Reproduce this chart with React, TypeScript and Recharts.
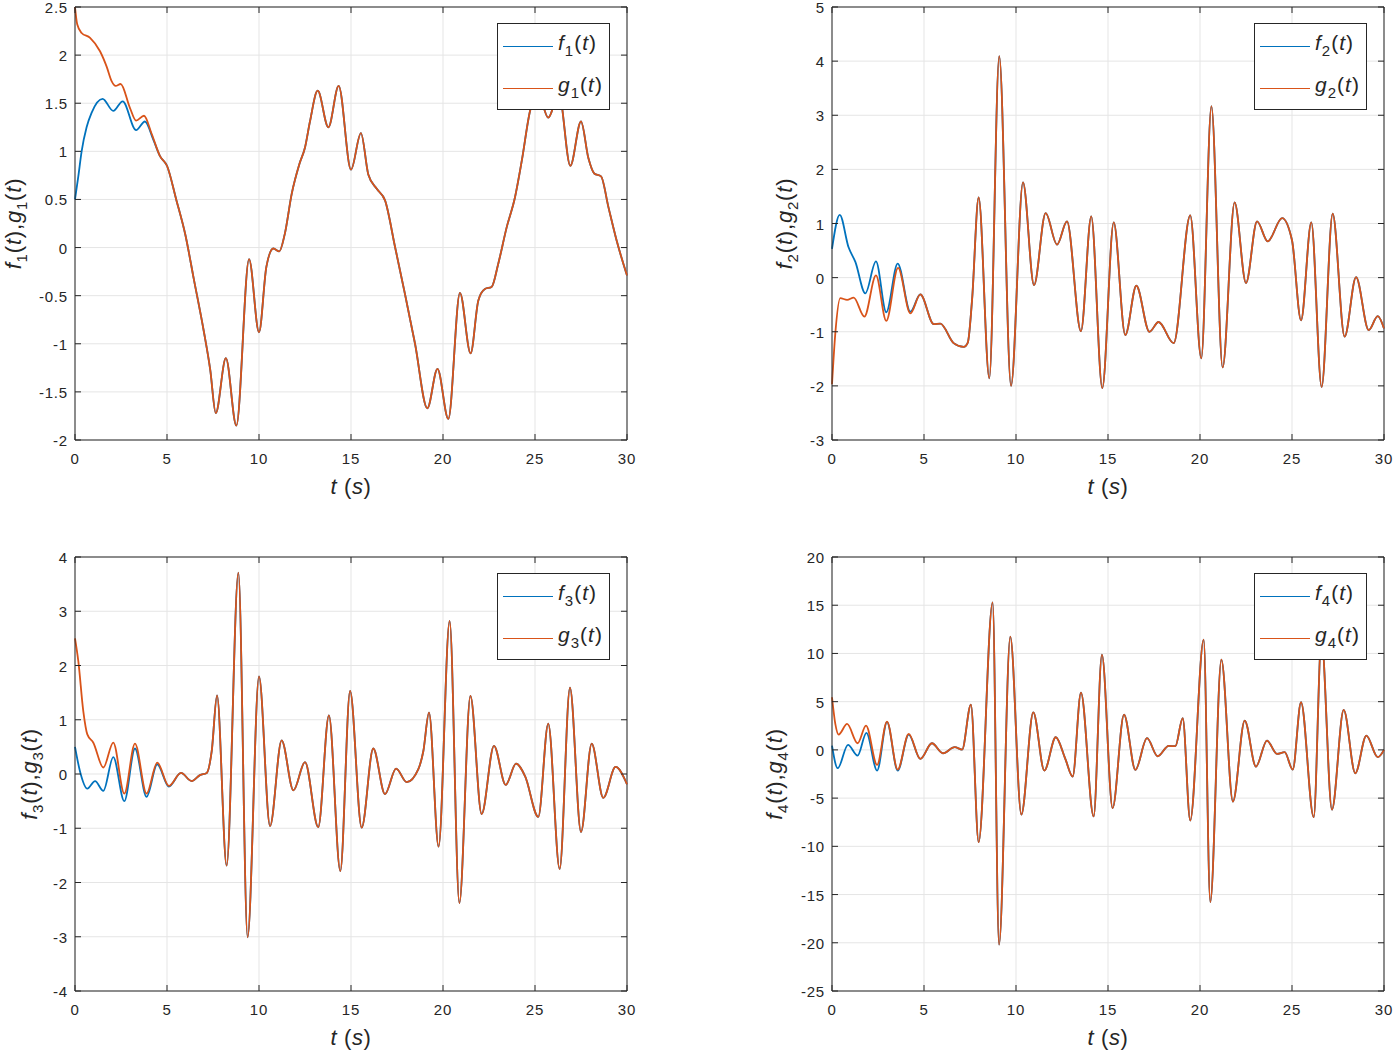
import React from "react";
import {
  LineChart,
  Line,
  XAxis,
  YAxis,
  CartesianGrid,
  ReferenceLine,
  Legend,
} from "recharts";

type Pt = [number, number];

// time axis ticks (s)
const xTicks = [0, 5, 10, 15, 20, 25, 30];

// y ticks of each panel
const y1Ticks = [-2, -1.5, -1, -0.5, 0, 0.5, 1, 1.5, 2, 2.5];
const y2Ticks = [-3, -2, -1, 0, 1, 2, 3, 4, 5];
const y3Ticks = [-4, -3, -2, -1, 0, 1, 2, 3, 4];
const y4Ticks = [-25, -20, -15, -10, -5, 0, 5, 10, 15, 20];

// panel 1: start of f1 / g1 (they differ), then common part
const f1Head: Pt[] = [
  [0, 0.5], [0.18, 0.74], [0.36, 1.0], [0.63, 1.25], [0.9, 1.4], [1.5, 1.545],
  [2.08, 1.42], [2.59, 1.52], [3.32, 1.22], [3.8, 1.31], [4.26, 1.12],
];
const g1Head: Pt[] = [
  [0, 2.5], [0.12, 2.32], [0.36, 2.23], [0.82, 2.18], [1.36, 2.04], [1.72, 1.88],
  [1.99, 1.73], [2.21, 1.68], [2.48, 1.7], [2.99, 1.45], [3.32, 1.32], [3.75, 1.37],
  [4.17, 1.18],
];
const tail1: Pt[] = [
  [4.62, 0.95], [5.0, 0.85], [5.5, 0.5], [6.0, 0.13], [6.45, -0.32], [7.0, -0.87],
  [7.35, -1.27], [7.65, -1.72], [8.2, -1.15], [8.77, -1.85], [9.46, -0.12],
  [10.0, -0.88], [10.4, -0.2], [10.78, -0.01], [11.1, -0.04], [11.4, 0.14],
  [11.78, 0.56], [12.2, 0.87], [12.5, 1.04], [12.77, 1.31], [13.19, 1.63],
  [13.77, 1.25], [14.33, 1.68], [15.0, 0.81], [15.54, 1.19], [15.94, 0.76],
  [16.4, 0.61], [16.85, 0.49], [17.4, 0.0], [17.93, -0.48], [18.48, -1.0],
  [19.15, -1.67], [19.7, -1.26], [20.29, -1.78], [20.92, -0.47], [21.5, -1.1],
  [21.92, -0.55], [22.28, -0.43], [22.64, -0.41], [23.0, -0.17], [23.46, 0.21],
  [23.91, 0.52], [24.28, 0.9], [24.73, 1.42], [25.15, 1.62], [25.72, 1.35],
  [26.3, 1.6], [26.92, 0.85], [27.5, 1.31], [27.9, 0.93], [28.22, 0.77],
  [28.59, 0.74], [28.99, 0.42], [29.44, 0.07], [30.0, -0.29],
];

// panel 2
const f2Head: Pt[] = [
  [0, 0.53], [0.42, 1.16], [0.9, 0.56], [1.27, 0.29], [1.81, -0.29], [2.39, 0.3],
  [2.95, -0.64], [3.57, 0.26], [4.26, -0.63], [4.8, -0.31],
];
const g2Head: Pt[] = [
  [0, -1.97], [0.18, -1.03], [0.45, -0.38], [0.82, -0.41], [1.18, -0.37],
  [1.76, -0.72], [2.39, 0.04], [2.95, -0.8], [3.59, 0.18], [4.26, -0.66],
  [4.8, -0.31],
];
const tail2: Pt[] = [
  [5.53, -0.86], [5.89, -0.85], [6.61, -1.21], [7.16, -1.28], [7.38, -1.2],
  [7.61, -0.42], [7.97, 1.48], [8.55, -1.86], [9.09, 4.09], [9.73, -2.0],
  [10.38, 1.76], [10.98, -0.14], [11.61, 1.19], [12.23, 0.61], [12.77, 1.04],
  [13.53, -0.99], [14.09, 1.13], [14.69, -2.04], [15.31, 1.02], [15.94, -1.06],
  [16.54, -0.15], [17.25, -1.0], [17.75, -0.82], [18.57, -1.21], [19.47, 1.15],
  [20.07, -1.49], [20.62, 3.17], [21.23, -1.66], [21.88, 1.39], [22.5, -0.1],
  [23.1, 1.04], [23.68, 0.67], [24.46, 1.1], [25.0, 0.69], [25.49, -0.79],
  [26.05, 1.02], [26.61, -2.02], [27.21, 1.18], [27.86, -1.09], [28.48, 0.01],
  [29.17, -0.97], [29.66, -0.71], [30.0, -0.94],
];

// panel 3
const f3Head: Pt[] = [
  [0, 0.5], [0.27, 0.05], [0.67, -0.27], [1.09, -0.13], [1.54, -0.31],
  [2.08, 0.31], [2.68, -0.5], [3.26, 0.47], [3.89, -0.42], [4.47, 0.18],
  [5.1, -0.23],
];
const g3Head: Pt[] = [
  [0, 2.5], [0.18, 2.08], [0.45, 1.16], [0.67, 0.73], [0.99, 0.58], [1.54, 0.12],
  [2.08, 0.58], [2.68, -0.36], [3.26, 0.56], [3.89, -0.36], [4.47, 0.21],
  [5.1, -0.22],
];
const tail3: Pt[] = [
  [5.76, 0.02], [6.34, -0.13], [6.79, -0.02], [7.16, 0.02], [7.43, 0.42],
  [7.72, 1.45], [8.24, -1.69], [8.88, 3.71], [9.38, -3.01], [10.0, 1.8],
  [10.6, -0.96], [11.23, 0.62], [11.87, -0.3], [12.5, 0.22], [13.22, -0.98],
  [13.8, 1.08], [14.42, -1.79], [14.95, 1.53], [15.58, -0.99], [16.21, 0.47],
  [16.85, -0.37], [17.45, 0.1], [18.03, -0.15], [18.66, 0.09], [18.93, 0.42],
  [19.24, 1.13], [19.76, -1.34], [20.36, 2.82], [20.89, -2.38], [21.49, 1.44],
  [22.1, -0.74], [22.77, 0.52], [23.41, -0.2], [23.97, 0.19], [24.46, -0.04],
  [25.18, -0.79], [25.72, 0.93], [26.34, -1.75], [26.9, 1.59], [27.5, -1.07],
  [28.08, 0.56], [28.71, -0.44], [29.38, 0.13], [30.0, -0.19],
];

// panel 4
const f4Head: Pt[] = [
  [0, 0.45], [0.31, -1.9], [0.87, 0.52], [1.39, -0.59], [1.87, 1.76],
  [2.45, -2.14], [2.99, 2.87], [3.57, -2.14], [4.17, 1.59], [4.8, -0.93],
];
const g4Head: Pt[] = [
  [0, 5.46], [0.18, 2.7], [0.36, 1.59], [0.82, 2.69], [1.39, 0.69], [1.85, 2.52],
  [2.45, -1.55], [2.99, 2.94], [3.57, -2.04], [4.17, 1.66], [4.8, -0.93],
];
const tail4: Pt[] = [
  [5.43, 0.69], [6.03, -0.35], [6.67, 0.28], [7.07, 0.03], [7.55, 4.7],
  [7.97, -9.56], [8.73, 15.3], [9.08, -20.2], [9.69, 11.74], [10.29, -6.7],
  [10.94, 3.9], [11.54, -2.14], [12.16, 1.31], [12.68, -0.93], [13.08, -2.76],
  [13.53, 5.94], [14.22, -6.9], [14.67, 9.88], [15.25, -6.04], [15.87, 3.66],
  [16.49, -2.07], [17.12, 1.21], [17.7, -0.66], [18.3, 0.41], [18.66, 0.38],
  [19.06, 3.28], [19.47, -7.32], [20.2, 11.43], [20.56, -15.78], [21.16, 9.36],
  [21.79, -5.35], [22.43, 3.04], [23.04, -1.73], [23.64, 0.97], [24.18, -0.41],
  [24.6, -0.24], [25.04, -2.04], [25.49, 4.94], [26.18, -6.98], [26.6, 11.5],
  [27.17, -6.2], [27.81, 4.14], [28.44, -2.42], [29.04, 1.48], [29.66, -0.76],
  [30.0, 0.0],
];

const FONT = '"Liberation Sans", Arial, Helvetica, sans-serif';
const AX = "#262626";
const BLUE = "#0072BD";
const ORANGE = "#D95319";

const PW = 552; // plot width
const Y_AXIS_W = 75;
const M_TOP = 7;
const X_AXIS_H = 62;
const CW = Y_AXIS_W + PW + 10;

const toRows = (pts: Pt[]) => pts.map(([t, v]) => ({ t, v }));

function XTick(props: any) {
  const { x, y, payload, top, bottom } = props;
  return (
    <g>
      <line x1={x} x2={x} y1={bottom} y2={bottom - 6} stroke={AX} />
      <line x1={x} x2={x} y1={top} y2={top + 6} stroke={AX} />
      <text x={x} y={y} textAnchor="middle" fontSize={15} letterSpacing={0.8} fontFamily={FONT} fill={AX}>
        {payload.value}
      </text>
    </g>
  );
}

function YTick(props: any) {
  const { x, y, payload, left, right } = props;
  return (
    <g>
      <line x1={left} x2={left + 6} y1={y} y2={y} stroke={AX} />
      <line x1={right} x2={right - 6} y1={y} y2={y} stroke={AX} />
      <text x={x} y={y + 6} textAnchor="end" fontSize={15} letterSpacing={0.8} fontFamily={FONT} fill={AX}>
        {payload.value}
      </text>
    </g>
  );
}

function YTitle({ cx, cy, idx }: { cx: number; cy: number; idx: number }) {
  return (
    <text
      x={cx}
      y={cy}
      transform={`rotate(-90 ${cx} ${cy})`}
      textAnchor="middle"
      fontSize={22}
      letterSpacing={0.8}
      fontFamily={FONT}
      fill={AX}
    >
      <tspan fontStyle="italic">f</tspan>
      <tspan fontSize={15} dy={6}>{idx}</tspan>
      <tspan dy={-6}>(</tspan>
      <tspan fontStyle="italic">t</tspan>
      <tspan>),</tspan>
      <tspan fontStyle="italic">g</tspan>
      <tspan fontSize={15} dy={6}>{idx}</tspan>
      <tspan dy={-6}>(</tspan>
      <tspan fontStyle="italic">t</tspan>
      <tspan>)</tspan>
    </text>
  );
}

function XTitle({ cx, cy }: { cx: number; cy: number }) {
  return (
    <text x={cx} y={cy} textAnchor="middle" fontSize={22} letterSpacing={0.6} fontFamily={FONT} fill={AX}>
      <tspan fontStyle="italic">t</tspan>
      <tspan> (</tspan>
      <tspan fontStyle="italic">s</tspan>
      <tspan>)</tspan>
    </text>
  );
}

function LegendBox(props: any) {
  const items = props.payload ?? [];
  return (
    <div
      style={{
        width: 113,
        height: 87,
        boxSizing: "border-box",
        border: `1px solid ${AX}`,
        background: "#fff",
        position: "relative",
        fontFamily: FONT,
        color: AX,
      }}
    >
      {items.map((e: any, i: number) => {
        const name = String(e.value);
        return (
          <div
            key={name}
            style={{
              position: "absolute",
              left: 5,
              top: (i === 0 ? 22 : 64) - 15,
              height: 30,
              display: "flex",
              alignItems: "center",
            }}
          >
            <div style={{ width: 50, height: 0, borderTop: `1.6px solid ${e.color}` }} />
            <span
              style={{
                marginLeft: 5,
                fontSize: 21,
                letterSpacing: 1,
                whiteSpace: "nowrap",
                position: "relative",
                top: -3,
              }}
            >
              <i>{name[0]}</i>
              <span style={{ fontSize: 15, position: "relative", top: 6 }}>{name.slice(1)}</span>
              (<i>t</i>)
            </span>
          </div>
        );
      })}
    </div>
  );
}

interface PanelProps {
  idx: number;
  f: { t: number; v: number }[];
  g: { t: number; v: number }[];
  yDomain: [number, number];
  yTicks: number[];
  left: number;
  top: number;
  ph: number;
  labelX: number;
}

function Panel({ idx, f, g, yDomain, yTicks, left, top, ph, labelX }: PanelProps) {
  const pTop = M_TOP;
  const pBottom = M_TOP + ph;
  const pLeft = Y_AXIS_W;
  const pRight = Y_AXIS_W + PW;
  return (
    <div style={{ position: "absolute", left, top }}>
      <LineChart
        width={CW}
        height={M_TOP + ph + X_AXIS_H}
        margin={{ top: M_TOP, right: 10, left: 0, bottom: 0 }}
      >
        <CartesianGrid stroke="#e5e5e5" strokeWidth={1} />
        <XAxis
          type="number"
          dataKey="t"
          domain={[0, 30]}
          ticks={xTicks}
          interval={0}
          height={X_AXIS_H}
          tickSize={0}
          tickMargin={24}
          tickLine={false}
          axisLine={{ stroke: AX }}
          tick={(p: any) => <XTick {...p} top={pTop} bottom={pBottom} />}
          label={{ content: () => <XTitle cx={pLeft + PW / 2} cy={pBottom + 54} /> }}
        />
        <YAxis
          type="number"
          domain={yDomain}
          ticks={yTicks}
          interval={0}
          width={Y_AXIS_W}
          tickSize={0}
          tickMargin={7}
          tickLine={false}
          axisLine={{ stroke: AX }}
          tick={(p: any) => <YTick {...p} left={pLeft} right={pRight} />}
          label={{ content: () => <YTitle cx={labelX} cy={pTop + ph / 2} idx={idx} /> }}
        />
        <ReferenceLine y={yDomain[1]} stroke={AX} />
        <ReferenceLine x={30} stroke={AX} />
        <Line
          data={f}
          dataKey="v"
          name={`f${idx}`}
          type="monotone"
          stroke={BLUE}
          strokeWidth={1.8}
          dot={false}
          activeDot={false}
          isAnimationActive={false}
        />
        <Line
          data={g}
          dataKey="v"
          name={`g${idx}`}
          type="monotone"
          stroke={ORANGE}
          strokeWidth={1.8}
          dot={false}
          activeDot={false}
          isAnimationActive={false}
        />
        <Legend
          layout="vertical"
          align="center"
          verticalAlign="middle"
          content={(p: any) => <LegendBox {...p} />}
          wrapperStyle={{ top: M_TOP + 16, right: CW - (pRight - 17), left: "auto", width: 113 }}
        />
      </LineChart>
    </div>
  );
}

const panels: PanelProps[] = [
  { idx: 1, f: toRows([...f1Head, ...tail1]), g: toRows([...g1Head, ...tail1]), yDomain: [-2, 2.5], yTicks: y1Ticks, left: 0, top: 0, ph: 433, labelX: 21 },
  { idx: 2, f: toRows([...f2Head, ...tail2]), g: toRows([...g2Head, ...tail2]), yDomain: [-3, 5], yTicks: y2Ticks, left: 757, top: 0, ph: 433, labelX: 35 },
  { idx: 3, f: toRows([...f3Head, ...tail3]), g: toRows([...g3Head, ...tail3]), yDomain: [-4, 4], yTicks: y3Ticks, left: 0, top: 550, ph: 434, labelX: 37 },
  { idx: 4, f: toRows([...f4Head, ...tail4]), g: toRows([...g4Head, ...tail4]), yDomain: [-25, 20], yTicks: y4Ticks, left: 757, top: 550, ph: 434, labelX: 25 },
];

export default function App() {
  return (
    <div style={{ position: "absolute", left: 0, top: 0, width: 1394, height: 1050, background: "#fff" }}>
      {panels.map((p) => (
        <Panel key={p.idx} {...p} />
      ))}
    </div>
  );
}
